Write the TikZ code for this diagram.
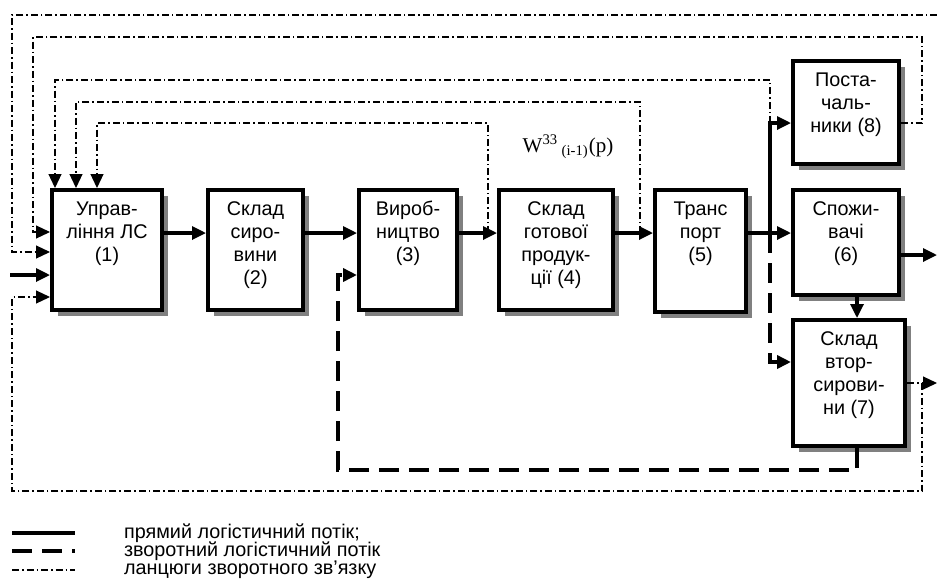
\documentclass[tikz,border=0pt]{standalone}
\usepackage{fontspec}
\setmainfont{Liberation Sans}
\newfontfamily\serifw{Liberation Serif}
\usetikzlibrary{arrows.meta,shadows}
\newcommand{\unitlines}[3]{\parbox[c][#2][t]{#1}{\centering\vspace*{4.5pt}\strut#3}}
\tikzset{
    unit/.style     = {rectangle, draw=black, line width=2pt, fill=white, inner sep=0pt,
                       drop shadow={shadow xshift=3pt, shadow yshift=-3pt, fill=black!50, opacity=1}},
    flow/.style     = {-{Triangle[length=7pt,width=6.5pt]}, line width=1.6pt},
    backflow/.style = {flow, line width=1.8pt, dash pattern=on 10pt off 5pt},
    loopline/.style = {-{Triangle[length=7pt,width=6.5pt]}, line width=0.6pt,
                       dash pattern=on 3.5pt off 1.5pt on 0.75pt off 1.5pt},
    legtext/.style  = {anchor=west}
}
\begin{document}
\begin{tikzpicture}[x=0.5pt, y=-0.5pt,
        every node/.style={font=\fontsize{9.9}{11.5}\selectfont}]
    \useasboundingbox (0,0) rectangle (937,585);

    % --- Units ---
    \node[unit] (ctrl)  at (107,250)   {\unitlines{55pt}{60pt}{Управ-\\ління ЛС\\(1)}};
    \node[unit] (raw)   at (255.5,250) {\unitlines{47.5pt}{60pt}{Склад\\сиро-\\вини\\(2)}};
    \node[unit] (prod)  at (408,250)   {\unitlines{49pt}{60pt}{Вироб-\\ництво\\(3)}};
    \node[unit] (fin)   at (556,250)   {\unitlines{57pt}{60pt}{Склад\\готової\\продук-\\ції (4)}};
    \node[unit] (trans) at (700.5,251) {\unitlines{45.5pt}{61pt}{Транс\\порт\\(5)}};
    \node[unit] (supp)  at (846,112.5) {\unitlines{53pt}{51.5pt}{Поста-\\чаль-\\ники (8)}};
    \node[unit] (cons)  at (846,242.5) {\unitlines{53pt}{52.5pt}{Спожи-\\вачі\\(6)}};
    \node[unit] (sec)   at (849,383)   {\unitlines{56pt}{63pt}{Склад\\втор-\\сирови-\\ни (7)}};

    \node[font=\serifw\fontsize{10.5}{12}\selectfont] (wlab) at (568,147)
        {W\textsuperscript{33}\,\textsubscript{(i-1)}(p)};

    % --- Auxiliary points ---
    \coordinate (trunk)   at (0,233);
    \coordinate (bus)     at (770,233);
    \coordinate (bustop)  at (770,123);
    \coordinate (secin)   at (0,362);
    \coordinate (consout) at (937,255);
    \coordinate (dropx)   at (857,0);
    \coordinate (feed)    at (10,275);
    \coordinate (retr)    at (857,470);
    \coordinate (retl)    at (338,470);
    \coordinate (retin)   at (0,275);
    \coordinate (edgeT)   at (937,15);
    \coordinate (rt)      at (922,37);
    \coordinate (rb)      at (922,491);
    \coordinate (secout)  at (937,383);
    \coordinate (tap34)   at (488,233);
    \coordinate (tap45)   at (640,233);
    \coordinate (fa) at (12,252);
    \coordinate (fb) at (33,232);
    \coordinate (fc) at (55,80);
    \coordinate (fd) at (76,102);
    \coordinate (fe) at (97,123);
    \coordinate (fz) at (12,297);

    % --- Direct flow ---
    \draw[flow] (feed) -- (ctrl.west |- feed);
    \draw[flow] (ctrl.east |- trunk) -- (raw.west |- trunk);
    \draw[flow] (raw.east |- trunk) -- (prod.west |- trunk);
    \draw[flow] (prod.east |- trunk) -- (fin.west |- trunk);
    \draw[flow] (fin.east |- trunk) -- (trans.west |- trunk);
    \draw[flow] (trans.east |- trunk) -- (cons.west |- trunk);
    \draw[flow] (bus) -- (bustop) -- (supp.west |- bustop);
    \draw[flow] (cons.east |- consout) -- (consout);
    \draw[flow] (cons.south -| dropx) -- (sec.north -| dropx);

    % --- Reverse flow ---
    \draw[backflow] (bus) |- (sec.west |- secin);
    \draw[backflow] (sec.south -| retr) -- (retr) -- (retl) |- (prod.west |- retin);

    % --- Feedback chains ---
    \draw[loopline] (edgeT) -| (fa) -- (ctrl.west |- fa);
    \draw[loopline] (supp.east |- bustop) -| (rt) -| (fb) -- (ctrl.west |- fb);
    \draw[loopline] (bustop) |- (fc) -- (fc |- ctrl.north);
    \draw[loopline] (tap45) |- (fd) -- (fd |- ctrl.north);
    \draw[loopline] (tap34) |- (fe) -- (fe |- ctrl.north);
    \draw[loopline] (sec.east |- secout) -- (secout);
    \draw[loopline] (rb |- secout) -- (rb) -| (fz) -- (ctrl.west |- fz);

    % --- Legend ---
    \coordinate (ls1) at (12,533); \coordinate (le1) at (75,533);
    \coordinate (ls2) at (12,551); \coordinate (le2) at (75,551);
    \coordinate (ls3) at (12,570); \coordinate (le3) at (75,570);
    \draw[line width=1.6pt] (ls1) -- (le1);
    \draw[line width=1.8pt, dash pattern=on 10pt off 5pt] (ls2) -- (le2);
    \draw[line width=0.6pt, dash pattern=on 3.5pt off 1.5pt on 0.75pt off 1.5pt] (ls3) -- (le3);
    \node[legtext] (leg1) at (117,533) {прямий логістичний потік;};
    \node[legtext] (leg2) at (117,551) {зворотний логістичний потік};
    \node[legtext] (leg3) at (117,570) {ланцюги зворотного зв'язку};
\end{tikzpicture}
\end{document}
